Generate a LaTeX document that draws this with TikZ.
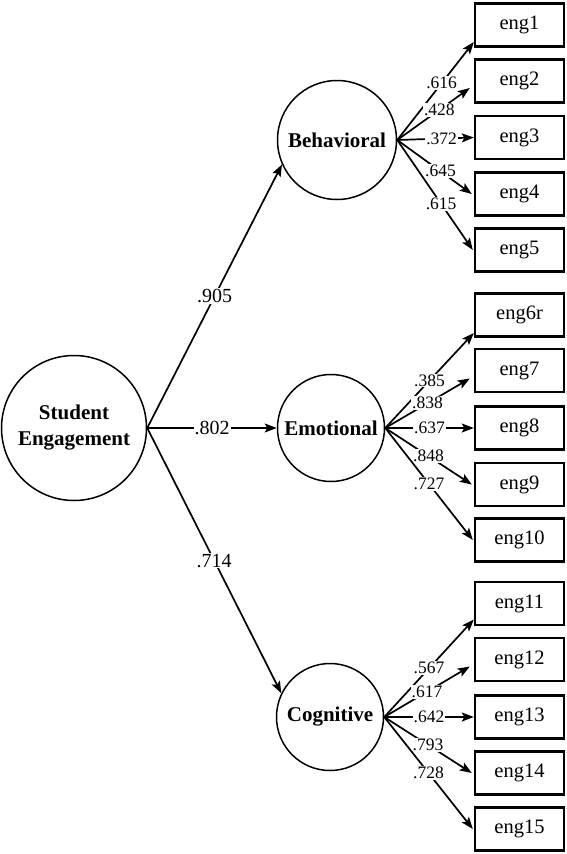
\documentclass[tikz,border=0pt]{standalone}
\usepackage{fontspec}
\setmainfont{Liberation Serif}
\usetikzlibrary{arrows.meta,positioning,calc}

\begin{document}
\begin{tikzpicture}[x=1pt, y=-1pt,
    latent/.style={circle, draw, line width=1.5pt, inner sep=0pt, align=center,
        font=\fontsize{21}{24}\selectfont\bfseries},
    observed/.style={rectangle, draw, line width=2.4pt, minimum width=89pt,
        minimum height=43pt, inner sep=0pt, font=\fontsize{20.5}{22}\selectfont},
    path/.style={line width=1.7pt, -{Stealth[length=12pt, width=9pt, inset=2.5pt]}},
    coef/.style={fill=white, inner sep=1pt, font=\fontsize{17.5}{19}\selectfont},
    bigcoef/.style={coef, font=\fontsize{20}{22}\selectfont}
    ]
    \useasboundingbox (0,0) rectangle (567,854);

    % Latent factors
    \node[latent, minimum size=145pt] (se) at (74,428) {Student\\[2pt]Engagement};
    \node[latent, minimum size=119pt] (beh) at (337,140) {Behavioral};
    \node[latent, minimum size=107pt] (emo) at (331,428) {Emotional};
    \node[latent, minimum size=107pt] (cog) at (330,717) {Cognitive};

    % Observed items
    \foreach \i/\y in {1/25, 2/81, 3/137.5, 4/194, 5/250,
                       6r/315, 7/370.5, 8/428, 9/484.5, 10/540,
                       11/603.5, 12/659.5, 13/717, 14/773, 15/829} {
        \node[observed] (eng\i) at (519.5,\y) {eng\i};
    }

    % Second-order loadings
    \draw[path] (se.east) -- (beh.204) node[bigcoef, pos=0.5] {.905};
    \draw[path] (se.east) -- (emo.west) node[bigcoef, pos=0.5] {.802};
    \draw[path] (se.east) -- (cog.154) node[bigcoef, pos=0.5] {.714};

    % First-order loadings
    \foreach \i/\dx/\dy/\c in {1/0/17/.616, 2/-4/7/.428, 3/0/0/.372, 4/-2/0/.645, 5/-1/0/.615} {
        \draw[path] (beh.east) -- ([shift={(\dx,\dy)}]eng\i.west) node[coef, pos=0.58] {\c};
    }
    \foreach \i/\dx/\dy/\c in {6r/0/18/.385, 7/-4/8/.838, 8/0/0/.637, 9/-2/0/.848, 10/-1/0/.727} {
        \draw[path] (emo.east) -- ([shift={(\dx,\dy)}]eng\i.west) node[coef, pos=0.5] {\c};
    }
    \foreach \i/\dx/\dy/\c in {11/0/16/.567, 12/-4/7/.617, 13/0/0/.642, 14/-2/0/.793, 15/-1/0/.728} {
        \draw[path] (cog.east) -- ([shift={(\dx,\dy)}]eng\i.west) node[coef, pos=0.5] {\c};
    }
\end{tikzpicture}
\end{document}
